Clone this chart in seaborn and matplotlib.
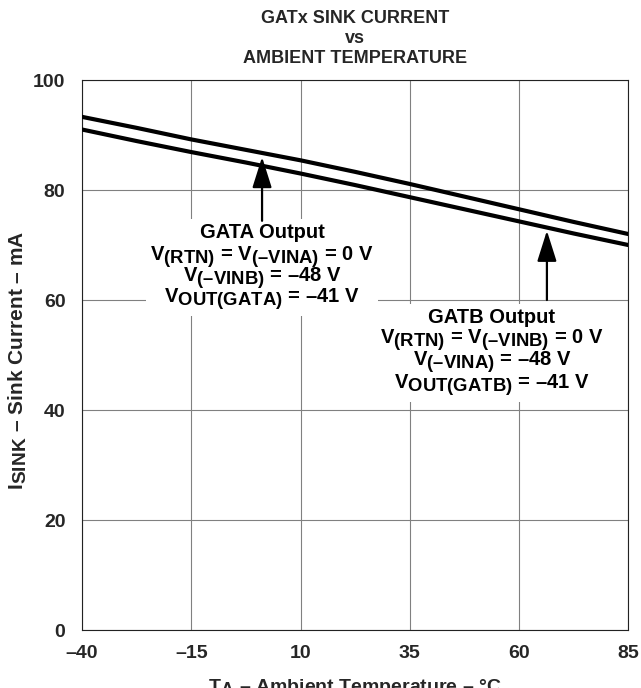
# Import packages
import pandas as pd
# for visualization
import seaborn as sns
import matplotlib.pyplot as plt
import matplotlib._mathtext as mathtext_mod
from matplotlib.patches import Rectangle
from matplotlib.transforms import Bbox

# ambient temperature (deg C) where the curves were read
temperature = [-40, -27.5, -15, -2.5, 10, 22.5, 35, 47.5, 60, 72.5, 85]
# sink current (mA) for the two gate outputs
gata_current = [93.3, 91.3, 89.2, 87.3, 85.4, 83.3, 81.1, 78.8, 76.5, 74.2, 72.0]
gatb_current = [91.0, 88.9, 86.9, 85.0, 83.0, 80.9, 78.7, 76.5, 74.3, 72.1, 70.0]

x_ticks = [-40, -15, 10, 35, 60, 85]
x_tick_labels = ["\u201340", "\u201315", "10", "35", "60", "85"]
y_ticks = [0, 20, 40, 60, 80, 100]

gata_text = ["GATA Output",
             "V$_{(RTN)}$ = V$_{(\u2013VINA)}$ = 0 V",
             "V$_{(\u2013VINB)}$ = \u201348 V",
             "V$_{OUT(GATA)}$ = \u201341 V"]
gatb_text = ["GATB Output",
             "V$_{(RTN)}$ = V$_{(\u2013VINB)}$ = 0 V",
             "V$_{(\u2013VINA)}$ = \u201348 V",
             "V$_{OUT(GATB)}$ = \u201341 V"]


def setup_style():
    sns.set_style("white")
    # Arial-like bold font everywhere, also inside the subscripts
    plt.rcParams["font.family"] = ["Liberation Sans", "DejaVu Sans"]
    plt.rcParams["font.weight"] = "bold"
    plt.rcParams["mathtext.fontset"] = "custom"
    plt.rcParams["mathtext.rm"] = "Liberation Sans:bold"
    plt.rcParams["mathtext.it"] = "Liberation Sans:bold"
    plt.rcParams["mathtext.bf"] = "Liberation Sans:bold"
    plt.rcParams["mathtext.default"] = "rm"
    # subscripts in the original are nearly full size
    mathtext_mod.SHRINK_FACTOR = 0.92


def put_block(ax, lines, x, ys):
    # one text object per line so the subscripts keep a tight spacing
    texts = []
    for line, y in zip(lines, ys):
        texts.append(ax.text(x, y, line, ha="center", va="center", fontsize=14.5,
                             fontweight="bold", color="black", zorder=3))
    return texts


def blank_behind(ax, texts, pad=4):
    # white box behind a whole text block, so the grid is cut there
    renderer = ax.figure.canvas.get_renderer()
    box = Bbox.union([t.get_window_extent(renderer) for t in texts])
    box = box.padded(pad)
    (x0, y0), (x1, y1) = ax.transData.inverted().transform(box.get_points())
    ax.add_patch(Rectangle((x0, y0), x1 - x0, y1 - y0, facecolor="white",
                           edgecolor="none", zorder=2))


def visualize():
    data = pd.DataFrame({"temperature": temperature * 2,
                         "current": gata_current + gatb_current,
                         "output": ["GATA"] * len(temperature) + ["GATB"] * len(temperature)})

    fig = plt.figure(figsize=(6.41, 6.88), dpi=100)
    ax = fig.add_axes([0.128, 0.0843, 0.852, 0.7994])

    sns.lineplot(data=data, x="temperature", y="current", hue="output",
                 palette={"GATA": "black", "GATB": "black"},
                 linewidth=3, legend=False, ax=ax, zorder=4)

    ax.set_xlim(-40, 85)
    ax.set_ylim(0, 100)
    ax.set_xticks(x_ticks)
    ax.set_xticklabels(x_tick_labels)
    ax.set_yticks(y_ticks)
    ax.tick_params(length=0, labelsize=14)
    ax.tick_params(axis="x", pad=11)
    ax.tick_params(axis="y", pad=12)
    for label in ax.get_xticklabels() + ax.get_yticklabels():
        label.set_fontweight("bold")

    # grey grid behind everything
    ax.grid(True, color="#808080", linewidth=0.8)
    ax.set_axisbelow(True)
    for spine in ax.spines.values():
        spine.set_color("#222222")
        spine.set_linewidth(0.8)

    ax.set_xlabel("T$_A$ \u2013 Ambient Temperature \u2013 \u00b0C", fontsize=14,
                  fontweight="bold")
    ax.xaxis.set_label_coords(0.5, -0.086)
    ax.set_ylabel("I$_{SINK}$ \u2013 Sink Current \u2013 mA", fontsize=15,
                  fontweight="bold")
    ax.yaxis.set_label_coords(-0.097, 0.49)
    ax.set_title("GATx SINK CURRENT\nvs\nAMBIENT TEMPERATURE", fontsize=13,
                 fontweight="bold", linespacing=1.25, pad=12)

    # labels and arrows for the two curves
    gata_block = put_block(ax, gata_text, 1.2, [72.2, 67.8, 64.0, 60.1])
    gatb_block = put_block(ax, gatb_text, 53.8, [56.9, 52.7, 48.7, 44.6])
    fig.canvas.draw()
    blank_behind(ax, gata_block)
    blank_behind(ax, gatb_block)

    arrow = dict(arrowstyle="-|>,head_length=1.9,head_width=0.6", color="black",
                 lw=1.6, shrinkA=0, shrinkB=0, mutation_scale=10)
    ax.annotate("", xy=(1.2, 86.0), xytext=(1.2, 74.4), arrowprops=arrow, zorder=5)
    ax.annotate("", xy=(66.4, 72.6), xytext=(66.4, 60.0), arrowprops=arrow, zorder=5)

    plt.savefig("out.png", dpi=100)


def main():
    setup_style()
    visualize()


if __name__ == "__main__":
    main()
